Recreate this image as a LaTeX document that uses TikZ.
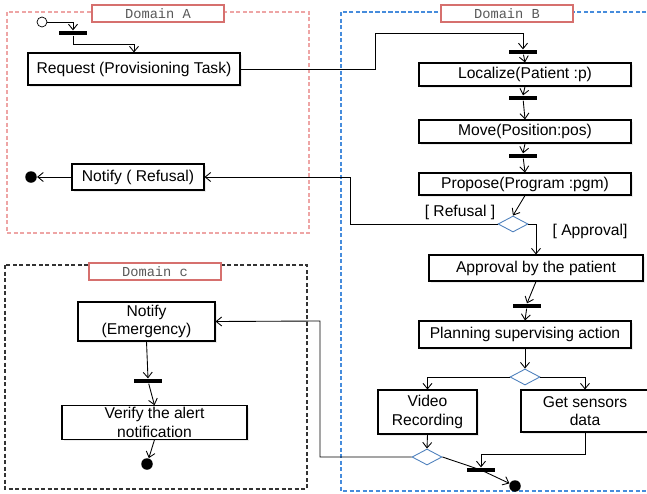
\documentclass[tikz,border=0pt]{standalone}
\usepackage{fontspec}
\setmainfont{Liberation Sans}
\setmonofont{Liberation Mono}
\usepackage{tikz}
\usetikzlibrary{arrows.meta, shapes.geometric, shadows}

\begin{document}
\begin{tikzpicture}[x=0.2mm, y=-0.2mm, >={Straight Barb[length=1.1mm,width=1.8mm]},
    every node/.style={font=\fontsize{8.9}{10.5}\selectfont},
    act/.style={draw, fill=white, line width=0.6pt, inner sep=1pt, align=center,
        drop shadow={shadow xshift=0.35mm, shadow yshift=-0.35mm, opacity=0.15}},
    bar/.style={fill=black, inner sep=0pt, minimum width=5.6mm, minimum height=0.9mm},
    decision/.style={diamond, draw=decblue, fill=white, line width=0.5pt, inner sep=0pt,
        minimum width=6mm, minimum height=3.2mm},
    startnode/.style={circle, draw, fill=white, inner sep=0pt, minimum size=2mm},
    endnode/.style={circle, fill=black, inner sep=0pt, minimum size=2.3mm},
    domlabel/.style={draw=labred, fill=white, line width=0.6pt, text=black!65, inner sep=0pt,
        font=\ttfamily\fontsize{7.8}{9}\selectfont, minimum width=26.4mm, minimum height=3.4mm},
    frame/.style={dash pattern=on 2.3pt off 1.4pt, line width=0.75pt},
    link/.style={->, line width=0.5pt}]
    % Colours of frames and decisions
    \definecolor{decblue}{RGB}{79, 129, 189}
    \definecolor{labred}{RGB}{214, 112, 110}
    \definecolor{framea}{RGB}{238, 165, 165}
    \definecolor{frameb}{RGB}{70, 140, 220}

    \useasboundingbox (0,0) rectangle (647,494);

    % 1. Domain frames
    \draw[frame, framea] (7,12) rectangle (309,233);
    \draw[frame, frameb] (341,12) rectangle (655,491);
    \draw[frame, black!80] (5,265) rectangle (307,489);
    \node[domlabel] (labA) at (158,13.5) {Domain A};
    \node[domlabel] (labB) at (507,13.5) {Domain B};
    \node[domlabel] (labC) at (155,271.5) {Domain c};

    % 2. Domain A
    \node[startnode] (start) at (42,22) {};
    \node[bar] (barA) at (73,33) {};
    \node[act, minimum width=42.4mm, minimum height=6.4mm] (req) at (134,69) {Request (Provisioning Task)};
    \node[act, minimum width=26.4mm, minimum height=5.2mm] (nref) at (138,177) {Notify ( Refusal)};
    \node[endnode] (endA) at (31,177) {};

    % 3. Domain B
    \node[bar] (barB1) at (523,52) {};
    \node[act, minimum width=42.4mm, minimum height=4.6mm] (loc) at (525,74.5) {Localize(Patient :p)};
    \node[bar] (barB2) at (523,98) {};
    \node[act, minimum width=42.4mm, minimum height=4.6mm] (mov) at (525,131.5) {Move(Position:pos)};
    \node[bar] (barB3) at (523,156) {};
    \node[act, minimum width=42.4mm, minimum height=4.4mm] (prop) at (525,184) {Propose(Program :pgm)};
    \node[decision] (decRef) at (513,224) {};
    \node (lref) at (460,212) {[ Refusal ]};
    \node (lappr) at (590,231) {[ Approval]};
    \node[act, minimum width=42.8mm, minimum height=5.2mm] (appr) at (536,268) {Approval by the patient};
    \node[bar] (barB4) at (527,306) {};
    \node[act, minimum width=42.4mm, minimum height=5.4mm] (plan) at (525,334.5) {Planning supervising action};
    \node[decision] (decSplit) at (525,377) {};
    \node[act, minimum width=19.8mm, minimum height=8.8mm] (video) at (427.5,412) {Video\\Recording};
    \node[act, minimum width=25.6mm, minimum height=8.4mm] (sens) at (585,411) {Get sensors\\data};
    \node[decision] (decJoin) at (427,457) {};
    \node[bar] (barB5) at (481,470) {};
    \node[endnode] (endB) at (515,486) {};

    % 4. Domain c
    \node[act, minimum width=27.4mm, minimum height=7.8mm] (nemg) at (146.5,321.5) {Notify\\(Emergency)};
    \node[bar] (barC) at (148,381) {};
    \node[act, minimum width=37mm, minimum height=6.6mm] (verif) at (154.5,422.5) {Verify the alert\\notification};
    \node[endnode] (endC) at (147,464) {};

    % 5. Flows
    \coordinate (reqbend) at (375,33);
    \coordinate (refbend) at (350,177);
    \coordinate (emgbend) at (320,321);
    \draw[link] (start.east) -| (barA.north);
    \draw[link] (barA.south) -- ++(0,9) -| (req.north);
    \draw[link] (req.east) -| (reqbend) -| (barB1.north);
    \draw[link] (barB1) -- (loc.north);
    \draw[link] (loc.south) -- (barB2.north);
    \draw[link] (barB2) -- (mov.north);
    \draw[link] (mov.south) -- (barB3.north);
    \draw[link] (barB3) -- (prop.north);
    \draw[link] (prop.south) -- (decRef.north);
    \draw[link] (decRef.west) -| (refbend) -- (nref.east);
    \draw[link] (nref.west) -- (endA.east);
    \draw[link] (decRef.east) -| (appr.north);
    \draw[link] (appr.south) -- (barB4.north);
    \draw[link] (barB4) -- (plan.north);
    \draw[link] (plan.south) -- (decSplit.north);
    \draw[link] (decSplit.west) -| (video.north);
    \draw[link] (decSplit.east) -| (sens.north);
    \draw[link] (video.south) -- (decJoin.north);
    \draw[link] (decJoin.west) -| (emgbend) -- (nemg.east);
    \draw[line width=0.5pt] (decJoin.east) -- (barB5.center);
    \draw[link] (barB5.center) -- (endB);
    \draw[link] (sens.south) -- ++(0,22) -| (barB5.north);
    \draw[link] (nemg.south) -- (barC.north);
    \draw[link] (barC) -- (verif.north);
    \draw[link] (verif.south) -- (endC);
\end{tikzpicture}
\end{document}
